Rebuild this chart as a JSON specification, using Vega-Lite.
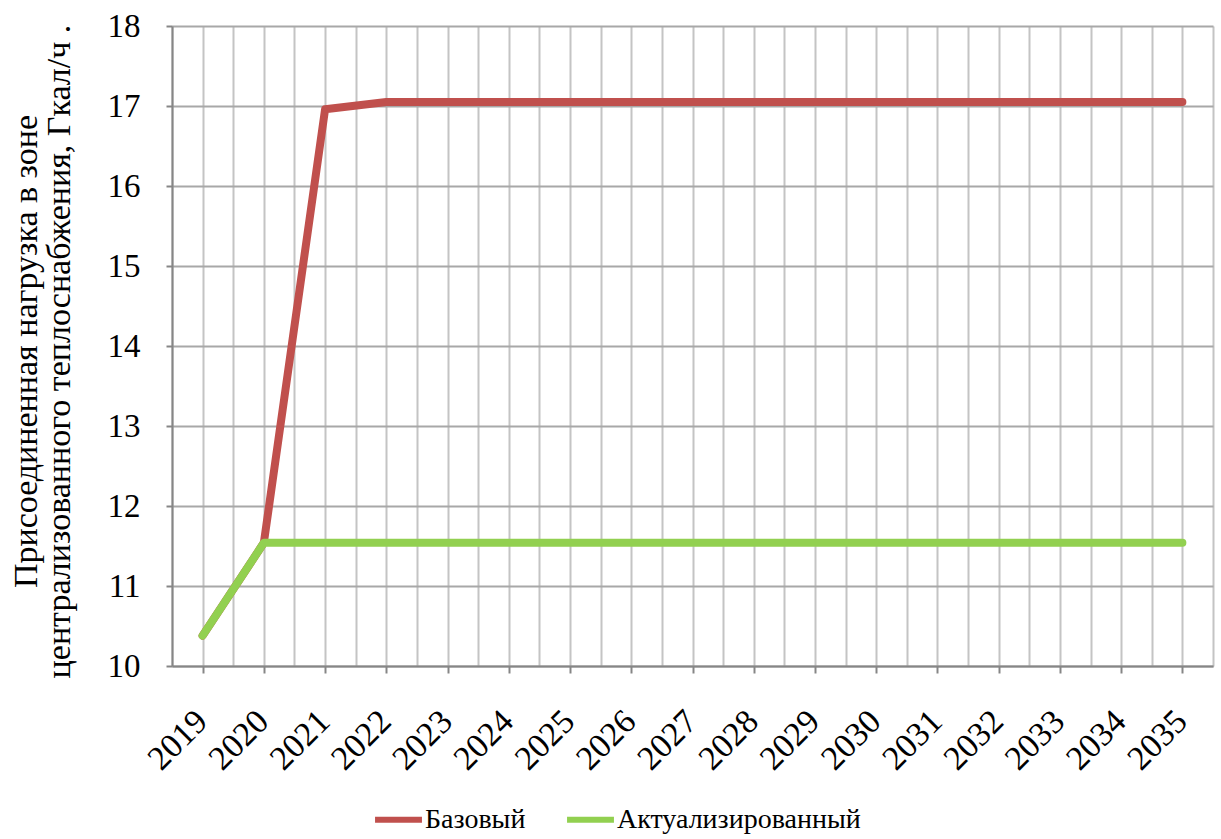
{
  "$schema": "https://vega.github.io/schema/vega-lite/v6.json",
  "autosize": "none",
  "width": 1041,
  "height": 640,
  "padding": {"left": 172, "top": 26, "right": 8, "bottom": 173},
  "background": "white",
  "data": {
    "values": [
      {"year": 2019, "series": "Базовый", "value": 10.38},
      {"year": 2020, "series": "Базовый", "value": 11.54},
      {"year": 2021, "series": "Базовый", "value": 16.96},
      {"year": 2022, "series": "Базовый", "value": 17.05},
      {"year": 2023, "series": "Базовый", "value": 17.05},
      {"year": 2024, "series": "Базовый", "value": 17.05},
      {"year": 2025, "series": "Базовый", "value": 17.05},
      {"year": 2026, "series": "Базовый", "value": 17.05},
      {"year": 2027, "series": "Базовый", "value": 17.05},
      {"year": 2028, "series": "Базовый", "value": 17.05},
      {"year": 2029, "series": "Базовый", "value": 17.05},
      {"year": 2030, "series": "Базовый", "value": 17.05},
      {"year": 2031, "series": "Базовый", "value": 17.05},
      {"year": 2032, "series": "Базовый", "value": 17.05},
      {"year": 2033, "series": "Базовый", "value": 17.05},
      {"year": 2034, "series": "Базовый", "value": 17.05},
      {"year": 2035, "series": "Базовый", "value": 17.05},
      {"year": 2019, "series": "Актуализированный", "value": 10.38},
      {"year": 2020, "series": "Актуализированный", "value": 11.54},
      {"year": 2021, "series": "Актуализированный", "value": 11.54},
      {"year": 2022, "series": "Актуализированный", "value": 11.54},
      {"year": 2023, "series": "Актуализированный", "value": 11.54},
      {"year": 2024, "series": "Актуализированный", "value": 11.54},
      {"year": 2025, "series": "Актуализированный", "value": 11.54},
      {"year": 2026, "series": "Актуализированный", "value": 11.54},
      {"year": 2027, "series": "Актуализированный", "value": 11.54},
      {"year": 2028, "series": "Актуализированный", "value": 11.54},
      {"year": 2029, "series": "Актуализированный", "value": 11.54},
      {"year": 2030, "series": "Актуализированный", "value": 11.54},
      {"year": 2031, "series": "Актуализированный", "value": 11.54},
      {"year": 2032, "series": "Актуализированный", "value": 11.54},
      {"year": 2033, "series": "Актуализированный", "value": 11.54},
      {"year": 2034, "series": "Актуализированный", "value": 11.54},
      {"year": 2035, "series": "Актуализированный", "value": 11.54}
    ]
  },
  "config": {
    "view": {"stroke": null},
    "font": "Liberation Serif",
    "axis": {"labelFont": "Liberation Serif", "titleFont": "Liberation Serif", "labelColor": "#000", "titleColor": "#000"},
    "legend": {"labelFont": "Liberation Serif"}
  },
  "encoding": {
    "x": {
      "field": "year",
      "type": "quantitative",
      "scale": {"domain": [2018.5, 2035.5], "nice": false, "zero": false},
      "axis": {
        "title": null,
        "values": [2018.5, 2019, 2019.5, 2020, 2020.5, 2021, 2021.5, 2022, 2022.5, 2023, 2023.5, 2024, 2024.5, 2025, 2025.5, 2026, 2026.5, 2027, 2027.5, 2028, 2028.5, 2029, 2029.5, 2030, 2030.5, 2031, 2031.5, 2032, 2032.5, 2033, 2033.5, 2034, 2034.5, 2035, 2035.5],
        "labelExpr": "datum.value % 1 === 0 ? '' + datum.value : ''",
        "labelAngle": -45,
        "labelAlign": "right",
        "labelBaseline": "top",
        "labelFontSize": 34,
        "labelPadding": 31,
        "labelOffset": -13,
        "labelOverlap": false,
        "labelFlush": false,
        "tickSize": 7,
        "tickColor": "#868686",
        "tickWidth": 2,
        "tickOpacity": {"condition": {"test": "datum.value % 1 === 0", "value": 1}, "value": 0},
        "domainColor": "#868686",
        "domainWidth": 2,
        "grid": true,
        "gridColor": "#c4c4c4",
        "gridWidth": 2
      }
    },
    "y": {
      "field": "value",
      "type": "quantitative",
      "scale": {"domain": [10, 18], "nice": false, "zero": false},
      "axis": {
        "values": [10, 11, 12, 13, 14, 15, 16, 17, 18],
        "title": ["Присоединенная нагрузка в зоне", "централизованного теплоснабжения, Гкал/ч ."],
        "titleFontSize": 34,
        "titleFontWeight": "normal",
        "titleLineHeight": 33,
        "titleAngle": -90,
        "titleX": -129,
        "titleY": 325,
        "titleAlign": "center",
        "titleBaseline": "bottom",
        "labelFontSize": 33,
        "labelPadding": 26,
        "tickSize": 6,
        "tickColor": "#868686",
        "tickWidth": 2,
        "domainColor": "#868686",
        "domainWidth": 2,
        "grid": true,
        "gridColor": "#a8a8a8",
        "gridWidth": 2
      }
    },
    "color": {
      "field": "series",
      "type": "nominal",
      "scale": {"domain": ["Базовый", "Актуализированный"], "range": ["#C0504D", "#92D050"]},
      "legend": {
        "title": null,
        "orient": "none",
        "direction": "horizontal",
        "legendX": 200,
        "legendY": 767,
        "symbolType": "stroke",
        "symbolStrokeWidth": 6,
        "symbolSize": 2200,
        "labelFontSize": 28,
        "labelColor": "#000",
        "labelLimit": 400,
        "labelOffset": 0,
        "columnPadding": 29
      }
    }
  },
  "layer": [
    {
      "transform": [{"filter": "datum.series === 'Базовый'"}],
      "mark": {"type": "line", "strokeWidth": 8, "strokeCap": "round", "strokeJoin": "round"}
    },
    {
      "transform": [{"filter": "datum.series === 'Актуализированный'"}],
      "mark": {"type": "line", "strokeWidth": 8, "strokeCap": "round", "strokeJoin": "round"}
    }
  ]
}
